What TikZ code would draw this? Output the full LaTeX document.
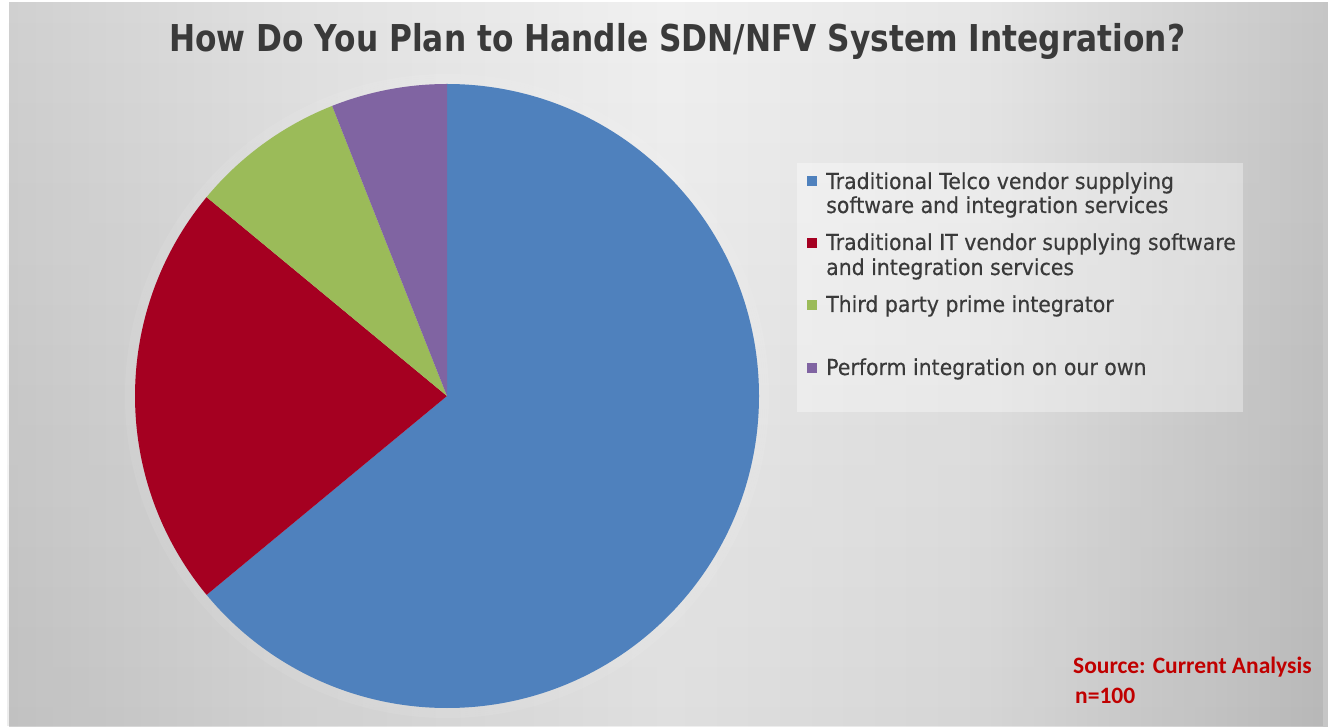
\documentclass[tikz,border=0pt]{standalone}
\usepackage{fontspec}
\usetikzlibrary{fadings}

\newfontfamily\legendfont[FakeStretch=0.93, FakeBold=0.35]{DejaVu Sans}
\newfontfamily\titlefont{DejaVu Sans}
\newfontfamily\notefont{Carlito}

\definecolor{sliceblue}{HTML}{4F81BD}
\definecolor{slicered}{HTML}{A50021}
\definecolor{slicegreen}{HTML}{9BBB59}
\definecolor{slicepurple}{HTML}{8064A2}
\definecolor{inktext}{HTML}{3A3A3A}
\definecolor{notered}{HTML}{C00000}

\definecolor{bgL}{HTML}{D0D0D0}
\definecolor{bgML}{HTML}{E2E2E2}
\definecolor{bgM}{HTML}{F0F0F0}
\definecolor{bgMR}{HTML}{E6E6E6}
\definecolor{bgR}{HTML}{C6C6C6}

% light band in the middle, grey towards both sides
\pgfdeclarehorizontalshading{backdrop}{100bp}{%
  color(0bp)=(bgL); color(25bp)=(bgL); color(37bp)=(bgML);
  color(50bp)=(bgM); color(62bp)=(bgMR); color(75bp)=(bgR); color(100bp)=(bgR)}

\tikzset{
  legendtext/.style={anchor=base west, inner sep=0pt, text=inktext,
    font=\legendfont\fontsize{22}{26}\selectfont},
  legendkey/.style={minimum size=10.5pt, inner sep=0pt, draw=none},
  notetext/.style={anchor=base west, inner sep=0pt, text=notered,
    font=\notefont\bfseries\fontsize{23.5}{28}\selectfont},
}

\begin{document}
\begin{tikzpicture}[x=1pt, y=1pt]
  \useasboundingbox (0,0) rectangle (1328,726);

  % page and chart area
  \fill[white] (0,0) rectangle (1328,726);
  \shade[shading=backdrop] (9,0) rectangle (1328,723);
  \fill[black, opacity=0.07, path fading=north] (9,0) rectangle (1328,723);

  % pie: 64 / 22 / 8 / 6 percent, starting at the top, clockwise
  \coordinate (c) at (447,330);
  \foreach \k in {1,...,5}
    \draw[white, opacity=0.08, line width=2pt] (c) circle[radius=311+\k*2];
  \fill[sliceblue]   (c) -- ++(90:312)    arc[start angle=90,    end angle=-140.4, radius=312] -- cycle;
  \fill[slicered]    (c) -- ++(219.6:312) arc[start angle=219.6, end angle=140.4,  radius=312] -- cycle;
  \fill[slicegreen]  (c) -- ++(140.4:312) arc[start angle=140.4, end angle=111.6,  radius=312] -- cycle;
  \fill[slicepurple] (c) -- ++(111.6:312) arc[start angle=111.6, end angle=90,     radius=312] -- cycle;

  % title
  \node[anchor=base west, inner sep=0pt, text=inktext] (title) at (169,674)
    {\resizebox{1016pt}{28.1pt}{\titlefont\bfseries How Do You Plan to Handle SDN/NFV System Integration?}};

  % legend panel
  \fill[white, opacity=0.35] (797,314) rectangle (1243,563);

  \node[legendkey, fill=sliceblue]   (key1) at (812,545) {};
  \node[legendkey, fill=slicered]    (key2) at (812,483) {};
  \node[legendkey, fill=slicegreen]  (key3) at (812,421) {};
  \node[legendkey, fill=slicepurple] (key4) at (812,358) {};

  \node[legendtext] (leg1a) at (826,537) {Traditional Telco vendor supplying};
  \node[legendtext] (leg1b) at (826,513) {software and integration services};
  \node[legendtext] (leg2a) at (826,476) {Traditional IT vendor supplying software};
  \node[legendtext] (leg2b) at (826,451) {and integration services};
  \node[legendtext] (leg3)  at (826,414) {Third party prime integrator};
  \node[legendtext] (leg4)  at (826,351) {Perform integration on our own};

  % source note
  \node[notetext] (source) at (1073,53) {Source: Current Analysis};
  \node[notetext] (sample) at (1075,23) {n=100};
\end{tikzpicture}
\end{document}
